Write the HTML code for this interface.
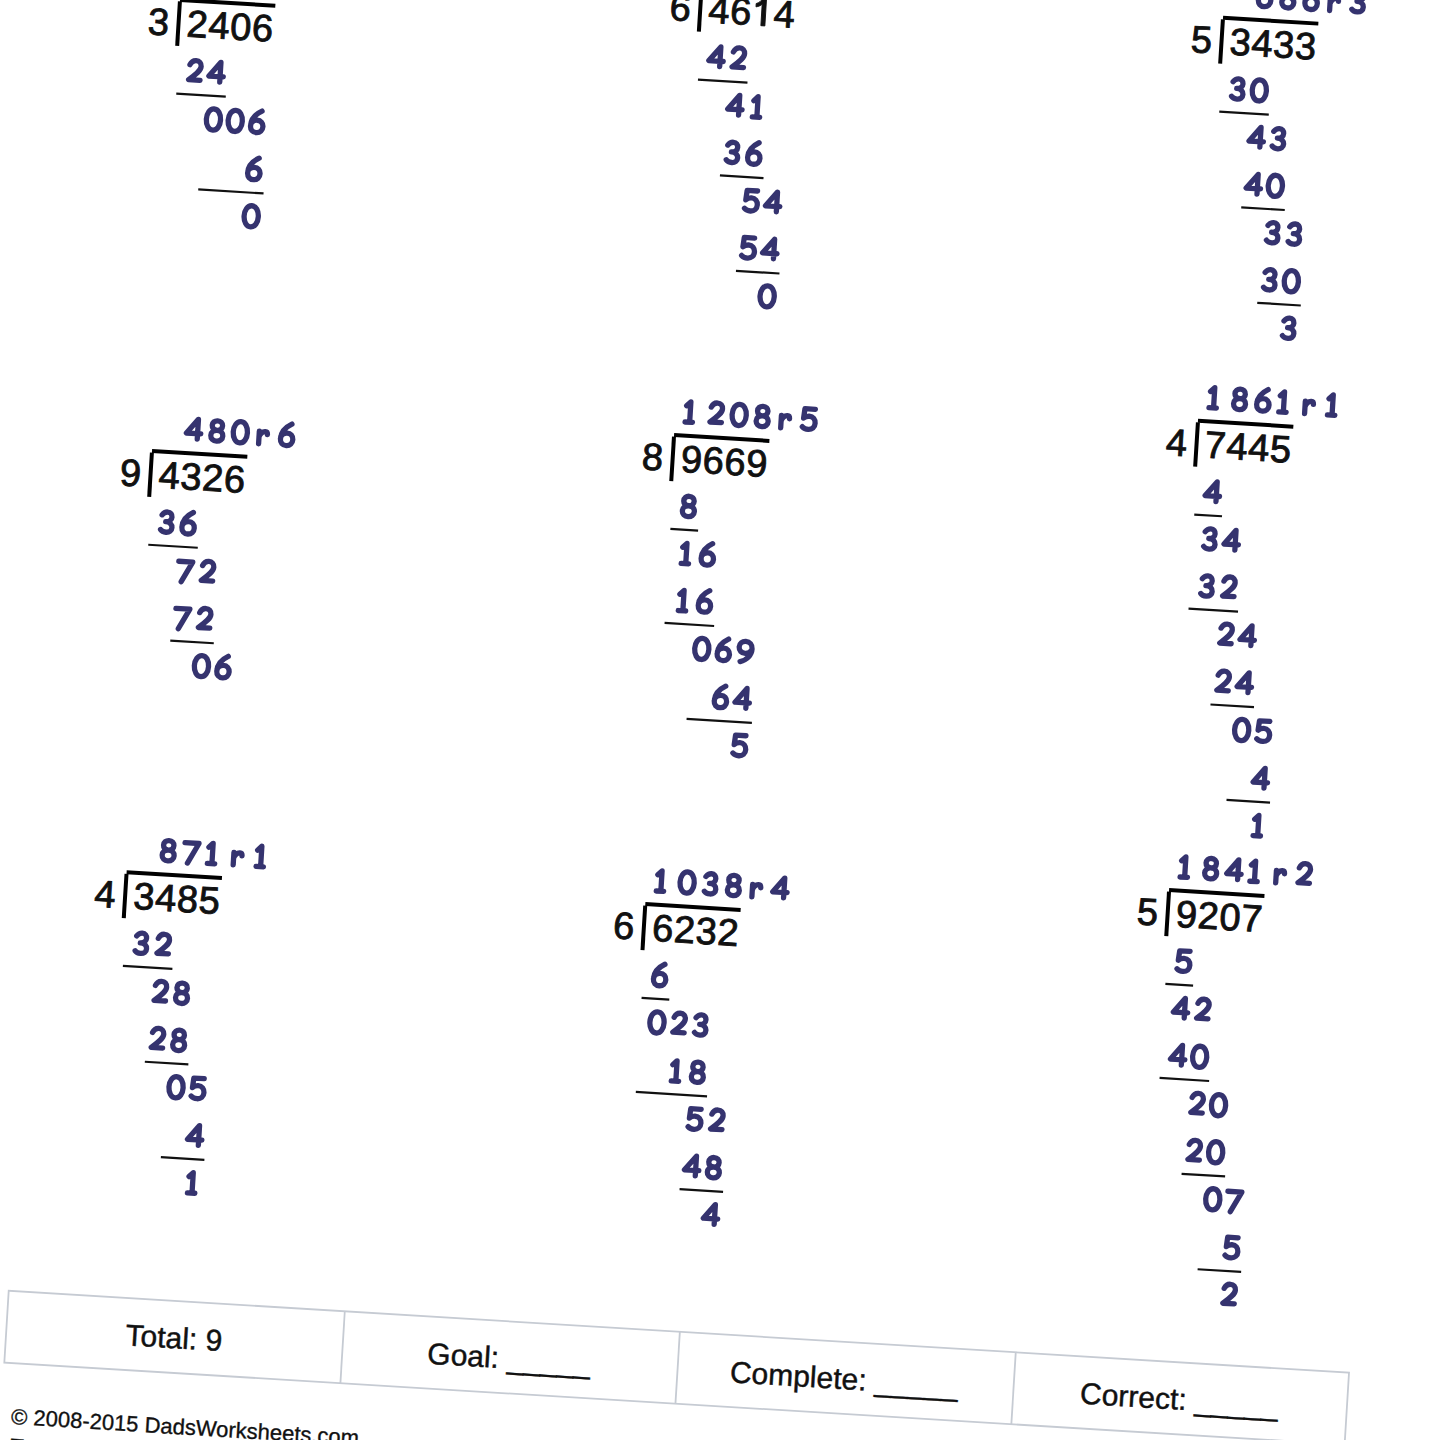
<!DOCTYPE html>
<html><head><meta charset="utf-8"><style>
html,body{margin:0;padding:0;background:#fff;width:1440px;height:1440px;overflow:hidden}
svg{position:absolute;left:0;top:0}
.k{font-family:"Liberation Sans",sans-serif;font-size:38px;fill:#111;stroke:#111;stroke-width:0.9;text-anchor:middle}
svg path{fill:none;stroke:#35336f;stroke-width:5.3px;stroke-linecap:round;stroke-linejoin:round}
svg path.k1{fill:#111;stroke:#111;stroke-width:0.9px;stroke-linejoin:miter}
.b{font-family:"Liberation Sans",sans-serif;font-weight:bold;font-size:33.5px;fill:#35336f;text-anchor:middle}
.t{font-family:"Liberation Sans",sans-serif;font-size:30px;fill:#111;stroke:#111;stroke-width:0.45;text-anchor:middle}
.c{font-family:"Liberation Sans",sans-serif;font-size:22px;fill:#111;stroke:#111;stroke-width:0.35}
</style></head><body>
<svg width="1440" height="1440" viewBox="0 0 1440 1440">
<g transform="rotate(3.5)">
<g transform="translate(179.65,-12.89)">
<text x="-20.1" y="38.0" class="k">3</text>
<text x="18.90" y="38.0" class="k">2</text>
<text x="40.70" y="38.0" class="k">4</text>
<text x="62.50" y="38.0" class="k">0</text>
<text x="84.30" y="38.0" class="k">6</text>
<rect x="0" y="-0.2" width="95.5" height="4.0" fill="#000"/>
<rect x="-2.0" y="3.4" width="4.0" height="44.4" fill="#000"/>
<path transform="translate(40.45,-9.65)" d="M0,-13.2 C-3.4,-13.2 -5.2,-15.2 -5.2,-17.9 C-5.2,-20.8 -3,-22.7 0,-22.7 C3,-22.7 5.2,-20.8 5.2,-17.9 C5.2,-15.2 3.4,-13.2 0,-13.2 C-3.8,-13.2 -6,-11 -6,-7.8 C-6,-4.5 -3.4,-2.3 0,-2.3 C3.4,-2.3 6,-4.5 6,-7.8 C6,-11 3.8,-13.2 0,-13.2 Z"/>
<path transform="translate(63.75,-9.65)" d="M0,-23.2 C4.2,-23.2 7.1,-18.5 7.1,-12.6 C7.1,-6.7 4.2,-2.0 0,-2.0 C-4.2,-2.0 -7.1,-6.7 -7.1,-12.6 C-7.1,-18.5 -4.2,-23.2 0,-23.2 Z"/>
<path transform="translate(87.05,-9.65)" d="M-5.0,-18.8 C-3.8,-21.8 -1.4,-23.2 1.0,-23.2 C4.2,-23.2 6.3,-21 6.3,-17.8 C6.3,-13.6 1.6,-9.6 -5.4,-3.8 L6.0,-3.8"/>
<path transform="translate(18.90,84.65)" d="M-5.0,-18.8 C-3.8,-21.8 -1.4,-23.2 1.0,-23.2 C4.2,-23.2 6.3,-21 6.3,-17.8 C6.3,-13.6 1.6,-9.6 -5.4,-3.8 L6.0,-3.8"/>
<path transform="translate(40.70,84.65)" d="M4,-3.2 L4,-23 L-7.2,-8.6 L7.2,-8.6"/>
<path transform="translate(40.70,131.80)" d="M0,-23.2 C4.2,-23.2 7.1,-18.5 7.1,-12.6 C7.1,-6.7 4.2,-2.0 0,-2.0 C-4.2,-2.0 -7.1,-6.7 -7.1,-12.6 C-7.1,-18.5 -4.2,-23.2 0,-23.2 Z"/>
<path transform="translate(62.50,131.80)" d="M0,-23.2 C4.2,-23.2 7.1,-18.5 7.1,-12.6 C7.1,-6.7 4.2,-2.0 0,-2.0 C-4.2,-2.0 -7.1,-6.7 -7.1,-12.6 C-7.1,-18.5 -4.2,-23.2 0,-23.2 Z"/>
<path transform="translate(84.30,131.80)" d="M4.4,-24.0 C-1.8,-20.6 -6.2,-15 -6.2,-8.6 C-6.2,-4.6 -3.8,-2.2 0,-2.2 C3.7,-2.2 6.2,-4.8 6.2,-8.5 C6.2,-12.1 3.7,-14.6 0.1,-14.6 C-2.6,-14.6 -4.8,-13.2 -5.9,-11"/>
<path transform="translate(84.30,178.95)" d="M4.4,-24.0 C-1.8,-20.6 -6.2,-15 -6.2,-8.6 C-6.2,-4.6 -3.8,-2.2 0,-2.2 C3.7,-2.2 6.2,-4.8 6.2,-8.5 C6.2,-12.1 3.7,-14.6 0.1,-14.6 C-2.6,-14.6 -4.8,-13.2 -5.9,-11"/>
<path transform="translate(84.30,226.10)" d="M0,-23.2 C4.2,-23.2 7.1,-18.5 7.1,-12.6 C7.1,-6.7 4.2,-2.0 0,-2.0 C-4.2,-2.0 -7.1,-6.7 -7.1,-12.6 C-7.1,-18.5 -4.2,-23.2 0,-23.2 Z"/>
<rect x="2.00" y="94.50" width="49.60" height="2.2" fill="#111"/>
<rect x="29.80" y="188.80" width="65.40" height="2.2" fill="#111"/>
</g>
<g transform="translate(699.51,-58.81)">
<text x="-20.1" y="38.0" class="k">6</text>
<text x="18.90" y="38.0" class="k">4</text>
<text x="40.70" y="38.0" class="k">6</text>
<path class="k1" transform="translate(62.50,38.0)" d="M-1,-27 L3,-27 L3,0 L-1,0 L-1,-21.5 C-2.5,-20 -4.5,-19 -7,-18.5 L-7,-21.8 C-4,-22.8 -2,-24.8 -1,-27 Z"/>
<text x="84.30" y="38.0" class="k">4</text>
<rect x="0" y="-0.2" width="95.5" height="4.0" fill="#000"/>
<rect x="-2.0" y="3.4" width="4.0" height="44.4" fill="#000"/>
<path transform="translate(40.45,-9.65)" d="M-7.2,-21.6 L6.8,-21.6 L-3.6,-1.4"/>
<path transform="translate(63.75,-9.65)" d="M4.4,-24.0 C-1.8,-20.6 -6.2,-15 -6.2,-8.6 C-6.2,-4.6 -3.8,-2.2 0,-2.2 C3.7,-2.2 6.2,-4.8 6.2,-8.5 C6.2,-12.1 3.7,-14.6 0.1,-14.6 C-2.6,-14.6 -4.8,-13.2 -5.9,-11"/>
<path transform="translate(87.05,-9.65)" d="M6.2,-14.4 C5,-12 2.8,-10.8 0,-10.8 C-3.8,-10.8 -6.4,-13.4 -6.4,-16.8 C-6.4,-20.2 -3.6,-22.7 0,-22.7 C3.8,-22.7 6.6,-20 6.6,-15.6 C6.6,-9.4 2.2,-4.2 -4.6,-2.3"/>
<path transform="translate(18.90,84.65)" d="M4,-3.2 L4,-23 L-7.2,-8.6 L7.2,-8.6"/>
<path transform="translate(40.70,84.65)" d="M-5.0,-18.8 C-3.8,-21.8 -1.4,-23.2 1.0,-23.2 C4.2,-23.2 6.3,-21 6.3,-17.8 C6.3,-13.6 1.6,-9.6 -5.4,-3.8 L6.0,-3.8"/>
<path transform="translate(40.70,131.80)" d="M4,-3.2 L4,-23 L-7.2,-8.6 L7.2,-8.6"/>
<path transform="translate(62.50,131.80)" d="M0.6,-2.3 L0.6,-22.7 L-3.4,-18.6 M-4.0,-2.3 L3.4,-2.3"/>
<path transform="translate(40.70,178.95)" d="M-4.9,-19.8 C-3.4,-22 -1.4,-22.9 0.6,-22.9 C3.5,-22.9 5.1,-20.8 5.1,-18.2 C5.1,-15 2.7,-13.2 -0.9,-13.2 C3.3,-13.2 5.7,-10.8 5.7,-7.6 C5.7,-4.4 3.3,-2.6 0,-2.6 C-2.4,-2.6 -4.4,-3.4 -5.6,-5"/>
<path transform="translate(62.50,178.95)" d="M4.4,-24.0 C-1.8,-20.6 -6.2,-15 -6.2,-8.6 C-6.2,-4.6 -3.8,-2.2 0,-2.2 C3.7,-2.2 6.2,-4.8 6.2,-8.5 C6.2,-12.1 3.7,-14.6 0.1,-14.6 C-2.6,-14.6 -4.8,-13.2 -5.9,-11"/>
<path transform="translate(62.50,226.10)" d="M5.8,-22.9 L-4.6,-22.9 L-5.4,-13.4 C-3.8,-15 -1.8,-15.6 0.2,-15.6 C4,-15.6 6.4,-12.8 6.4,-9 C6.4,-5 3.6,-2.5 -0.2,-2.5 C-2.8,-2.5 -4.8,-3.4 -6.2,-4.8"/>
<path transform="translate(84.30,226.10)" d="M4,-3.2 L4,-23 L-7.2,-8.6 L7.2,-8.6"/>
<path transform="translate(62.50,273.25)" d="M5.8,-22.9 L-4.6,-22.9 L-5.4,-13.4 C-3.8,-15 -1.8,-15.6 0.2,-15.6 C4,-15.6 6.4,-12.8 6.4,-9 C6.4,-5 3.6,-2.5 -0.2,-2.5 C-2.8,-2.5 -4.8,-3.4 -6.2,-4.8"/>
<path transform="translate(84.30,273.25)" d="M4,-3.2 L4,-23 L-7.2,-8.6 L7.2,-8.6"/>
<path transform="translate(84.30,320.40)" d="M0,-23.2 C4.2,-23.2 7.1,-18.5 7.1,-12.6 C7.1,-6.7 4.2,-2.0 0,-2.0 C-4.2,-2.0 -7.1,-6.7 -7.1,-12.6 C-7.1,-18.5 -4.2,-23.2 0,-23.2 Z"/>
<rect x="2.00" y="94.50" width="49.60" height="2.2" fill="#111"/>
<rect x="29.80" y="188.80" width="43.60" height="2.2" fill="#111"/>
<rect x="51.60" y="283.10" width="43.60" height="2.2" fill="#111"/>
</g>
<g transform="translate(1221.80,-58.70)">
<text x="-20.1" y="38.0" class="k">5</text>
<text x="18.90" y="38.0" class="k">3</text>
<text x="40.70" y="38.0" class="k">4</text>
<text x="62.50" y="38.0" class="k">3</text>
<text x="84.30" y="38.0" class="k">3</text>
<rect x="0" y="-0.2" width="95.5" height="4.0" fill="#000"/>
<rect x="-2.0" y="3.4" width="4.0" height="44.4" fill="#000"/>
<path transform="translate(40.45,-9.65)" d="M4.4,-24.0 C-1.8,-20.6 -6.2,-15 -6.2,-8.6 C-6.2,-4.6 -3.8,-2.2 0,-2.2 C3.7,-2.2 6.2,-4.8 6.2,-8.5 C6.2,-12.1 3.7,-14.6 0.1,-14.6 C-2.6,-14.6 -4.8,-13.2 -5.9,-11"/>
<path transform="translate(63.75,-9.65)" d="M0,-13.2 C-3.4,-13.2 -5.2,-15.2 -5.2,-17.9 C-5.2,-20.8 -3,-22.7 0,-22.7 C3,-22.7 5.2,-20.8 5.2,-17.9 C5.2,-15.2 3.4,-13.2 0,-13.2 C-3.8,-13.2 -6,-11 -6,-7.8 C-6,-4.5 -3.4,-2.3 0,-2.3 C3.4,-2.3 6,-4.5 6,-7.8 C6,-11 3.8,-13.2 0,-13.2 Z"/>
<path transform="translate(87.05,-9.65)" d="M4.4,-24.0 C-1.8,-20.6 -6.2,-15 -6.2,-8.6 C-6.2,-4.6 -3.8,-2.2 0,-2.2 C3.7,-2.2 6.2,-4.8 6.2,-8.5 C6.2,-12.1 3.7,-14.6 0.1,-14.6 C-2.6,-14.6 -4.8,-13.2 -5.9,-11"/>
<path transform="translate(110.35,-9.65)" d="M-4.4,-2.3 L-4.4,-14.8 M-4.4,-9.2 C-3.2,-12.8 -0.8,-14.8 1.6,-14.8 C3.2,-14.8 3.9,-13.8 3.9,-11.9"/>
<path transform="translate(133.65,-9.65)" d="M-4.9,-19.8 C-3.4,-22 -1.4,-22.9 0.6,-22.9 C3.5,-22.9 5.1,-20.8 5.1,-18.2 C5.1,-15 2.7,-13.2 -0.9,-13.2 C3.3,-13.2 5.7,-10.8 5.7,-7.6 C5.7,-4.4 3.3,-2.6 0,-2.6 C-2.4,-2.6 -4.4,-3.4 -5.6,-5"/>
<path transform="translate(18.90,84.65)" d="M-4.9,-19.8 C-3.4,-22 -1.4,-22.9 0.6,-22.9 C3.5,-22.9 5.1,-20.8 5.1,-18.2 C5.1,-15 2.7,-13.2 -0.9,-13.2 C3.3,-13.2 5.7,-10.8 5.7,-7.6 C5.7,-4.4 3.3,-2.6 0,-2.6 C-2.4,-2.6 -4.4,-3.4 -5.6,-5"/>
<path transform="translate(40.70,84.65)" d="M0,-23.2 C4.2,-23.2 7.1,-18.5 7.1,-12.6 C7.1,-6.7 4.2,-2.0 0,-2.0 C-4.2,-2.0 -7.1,-6.7 -7.1,-12.6 C-7.1,-18.5 -4.2,-23.2 0,-23.2 Z"/>
<path transform="translate(40.70,131.80)" d="M4,-3.2 L4,-23 L-7.2,-8.6 L7.2,-8.6"/>
<path transform="translate(62.50,131.80)" d="M-4.9,-19.8 C-3.4,-22 -1.4,-22.9 0.6,-22.9 C3.5,-22.9 5.1,-20.8 5.1,-18.2 C5.1,-15 2.7,-13.2 -0.9,-13.2 C3.3,-13.2 5.7,-10.8 5.7,-7.6 C5.7,-4.4 3.3,-2.6 0,-2.6 C-2.4,-2.6 -4.4,-3.4 -5.6,-5"/>
<path transform="translate(40.70,178.95)" d="M4,-3.2 L4,-23 L-7.2,-8.6 L7.2,-8.6"/>
<path transform="translate(62.50,178.95)" d="M0,-23.2 C4.2,-23.2 7.1,-18.5 7.1,-12.6 C7.1,-6.7 4.2,-2.0 0,-2.0 C-4.2,-2.0 -7.1,-6.7 -7.1,-12.6 C-7.1,-18.5 -4.2,-23.2 0,-23.2 Z"/>
<path transform="translate(62.50,226.10)" d="M-4.9,-19.8 C-3.4,-22 -1.4,-22.9 0.6,-22.9 C3.5,-22.9 5.1,-20.8 5.1,-18.2 C5.1,-15 2.7,-13.2 -0.9,-13.2 C3.3,-13.2 5.7,-10.8 5.7,-7.6 C5.7,-4.4 3.3,-2.6 0,-2.6 C-2.4,-2.6 -4.4,-3.4 -5.6,-5"/>
<path transform="translate(84.30,226.10)" d="M-4.9,-19.8 C-3.4,-22 -1.4,-22.9 0.6,-22.9 C3.5,-22.9 5.1,-20.8 5.1,-18.2 C5.1,-15 2.7,-13.2 -0.9,-13.2 C3.3,-13.2 5.7,-10.8 5.7,-7.6 C5.7,-4.4 3.3,-2.6 0,-2.6 C-2.4,-2.6 -4.4,-3.4 -5.6,-5"/>
<path transform="translate(62.50,273.25)" d="M-4.9,-19.8 C-3.4,-22 -1.4,-22.9 0.6,-22.9 C3.5,-22.9 5.1,-20.8 5.1,-18.2 C5.1,-15 2.7,-13.2 -0.9,-13.2 C3.3,-13.2 5.7,-10.8 5.7,-7.6 C5.7,-4.4 3.3,-2.6 0,-2.6 C-2.4,-2.6 -4.4,-3.4 -5.6,-5"/>
<path transform="translate(84.30,273.25)" d="M0,-23.2 C4.2,-23.2 7.1,-18.5 7.1,-12.6 C7.1,-6.7 4.2,-2.0 0,-2.0 C-4.2,-2.0 -7.1,-6.7 -7.1,-12.6 C-7.1,-18.5 -4.2,-23.2 0,-23.2 Z"/>
<path transform="translate(84.30,320.40)" d="M-4.9,-19.8 C-3.4,-22 -1.4,-22.9 0.6,-22.9 C3.5,-22.9 5.1,-20.8 5.1,-18.2 C5.1,-15 2.7,-13.2 -0.9,-13.2 C3.3,-13.2 5.7,-10.8 5.7,-7.6 C5.7,-4.4 3.3,-2.6 0,-2.6 C-2.4,-2.6 -4.4,-3.4 -5.6,-5"/>
<rect x="2.00" y="94.50" width="49.60" height="2.2" fill="#111"/>
<rect x="29.80" y="188.80" width="43.60" height="2.2" fill="#111"/>
<rect x="51.60" y="283.10" width="43.60" height="2.2" fill="#111"/>
</g>
<g transform="translate(179.24,439.08)">
<text x="-20.1" y="38.0" class="k">9</text>
<text x="18.90" y="38.0" class="k">4</text>
<text x="40.70" y="38.0" class="k">3</text>
<text x="62.50" y="38.0" class="k">2</text>
<text x="84.30" y="38.0" class="k">6</text>
<rect x="0" y="-0.2" width="95.5" height="4.0" fill="#000"/>
<rect x="-2.0" y="3.4" width="4.0" height="44.4" fill="#000"/>
<path transform="translate(40.45,-9.65)" d="M4,-3.2 L4,-23 L-7.2,-8.6 L7.2,-8.6"/>
<path transform="translate(63.75,-9.65)" d="M0,-13.2 C-3.4,-13.2 -5.2,-15.2 -5.2,-17.9 C-5.2,-20.8 -3,-22.7 0,-22.7 C3,-22.7 5.2,-20.8 5.2,-17.9 C5.2,-15.2 3.4,-13.2 0,-13.2 C-3.8,-13.2 -6,-11 -6,-7.8 C-6,-4.5 -3.4,-2.3 0,-2.3 C3.4,-2.3 6,-4.5 6,-7.8 C6,-11 3.8,-13.2 0,-13.2 Z"/>
<path transform="translate(87.05,-9.65)" d="M0,-23.2 C4.2,-23.2 7.1,-18.5 7.1,-12.6 C7.1,-6.7 4.2,-2.0 0,-2.0 C-4.2,-2.0 -7.1,-6.7 -7.1,-12.6 C-7.1,-18.5 -4.2,-23.2 0,-23.2 Z"/>
<path transform="translate(110.35,-9.65)" d="M-4.4,-2.3 L-4.4,-14.8 M-4.4,-9.2 C-3.2,-12.8 -0.8,-14.8 1.6,-14.8 C3.2,-14.8 3.9,-13.8 3.9,-11.9"/>
<path transform="translate(133.65,-9.65)" d="M4.4,-24.0 C-1.8,-20.6 -6.2,-15 -6.2,-8.6 C-6.2,-4.6 -3.8,-2.2 0,-2.2 C3.7,-2.2 6.2,-4.8 6.2,-8.5 C6.2,-12.1 3.7,-14.6 0.1,-14.6 C-2.6,-14.6 -4.8,-13.2 -5.9,-11"/>
<path transform="translate(18.90,84.65)" d="M-4.9,-19.8 C-3.4,-22 -1.4,-22.9 0.6,-22.9 C3.5,-22.9 5.1,-20.8 5.1,-18.2 C5.1,-15 2.7,-13.2 -0.9,-13.2 C3.3,-13.2 5.7,-10.8 5.7,-7.6 C5.7,-4.4 3.3,-2.6 0,-2.6 C-2.4,-2.6 -4.4,-3.4 -5.6,-5"/>
<path transform="translate(40.70,84.65)" d="M4.4,-24.0 C-1.8,-20.6 -6.2,-15 -6.2,-8.6 C-6.2,-4.6 -3.8,-2.2 0,-2.2 C3.7,-2.2 6.2,-4.8 6.2,-8.5 C6.2,-12.1 3.7,-14.6 0.1,-14.6 C-2.6,-14.6 -4.8,-13.2 -5.9,-11"/>
<path transform="translate(40.70,131.80)" d="M-7.2,-21.6 L6.8,-21.6 L-3.6,-1.4"/>
<path transform="translate(62.50,131.80)" d="M-5.0,-18.8 C-3.8,-21.8 -1.4,-23.2 1.0,-23.2 C4.2,-23.2 6.3,-21 6.3,-17.8 C6.3,-13.6 1.6,-9.6 -5.4,-3.8 L6.0,-3.8"/>
<path transform="translate(40.70,178.95)" d="M-7.2,-21.6 L6.8,-21.6 L-3.6,-1.4"/>
<path transform="translate(62.50,178.95)" d="M-5.0,-18.8 C-3.8,-21.8 -1.4,-23.2 1.0,-23.2 C4.2,-23.2 6.3,-21 6.3,-17.8 C6.3,-13.6 1.6,-9.6 -5.4,-3.8 L6.0,-3.8"/>
<path transform="translate(62.50,226.10)" d="M0,-23.2 C4.2,-23.2 7.1,-18.5 7.1,-12.6 C7.1,-6.7 4.2,-2.0 0,-2.0 C-4.2,-2.0 -7.1,-6.7 -7.1,-12.6 C-7.1,-18.5 -4.2,-23.2 0,-23.2 Z"/>
<path transform="translate(84.30,226.10)" d="M4.4,-24.0 C-1.8,-20.6 -6.2,-15 -6.2,-8.6 C-6.2,-4.6 -3.8,-2.2 0,-2.2 C3.7,-2.2 6.2,-4.8 6.2,-8.5 C6.2,-12.1 3.7,-14.6 0.1,-14.6 C-2.6,-14.6 -4.8,-13.2 -5.9,-11"/>
<rect x="2.00" y="94.50" width="49.60" height="2.2" fill="#111"/>
<rect x="29.80" y="188.80" width="43.60" height="2.2" fill="#111"/>
</g>
<g transform="translate(699.39,391.33)">
<text x="-20.1" y="38.0" class="k">8</text>
<text x="18.90" y="38.0" class="k">9</text>
<text x="40.70" y="38.0" class="k">6</text>
<text x="62.50" y="38.0" class="k">6</text>
<text x="84.30" y="38.0" class="k">9</text>
<rect x="0" y="-0.2" width="95.5" height="4.0" fill="#000"/>
<rect x="-2.0" y="3.4" width="4.0" height="44.4" fill="#000"/>
<path transform="translate(14.15,-9.65)" d="M0.6,-2.3 L0.6,-22.7 L-3.4,-18.6 M-4.0,-2.3 L3.4,-2.3"/>
<path transform="translate(40.45,-9.65)" d="M-5.0,-18.8 C-3.8,-21.8 -1.4,-23.2 1.0,-23.2 C4.2,-23.2 6.3,-21 6.3,-17.8 C6.3,-13.6 1.6,-9.6 -5.4,-3.8 L6.0,-3.8"/>
<path transform="translate(63.75,-9.65)" d="M0,-23.2 C4.2,-23.2 7.1,-18.5 7.1,-12.6 C7.1,-6.7 4.2,-2.0 0,-2.0 C-4.2,-2.0 -7.1,-6.7 -7.1,-12.6 C-7.1,-18.5 -4.2,-23.2 0,-23.2 Z"/>
<path transform="translate(87.05,-9.65)" d="M0,-13.2 C-3.4,-13.2 -5.2,-15.2 -5.2,-17.9 C-5.2,-20.8 -3,-22.7 0,-22.7 C3,-22.7 5.2,-20.8 5.2,-17.9 C5.2,-15.2 3.4,-13.2 0,-13.2 C-3.8,-13.2 -6,-11 -6,-7.8 C-6,-4.5 -3.4,-2.3 0,-2.3 C3.4,-2.3 6,-4.5 6,-7.8 C6,-11 3.8,-13.2 0,-13.2 Z"/>
<path transform="translate(110.35,-9.65)" d="M-4.4,-2.3 L-4.4,-14.8 M-4.4,-9.2 C-3.2,-12.8 -0.8,-14.8 1.6,-14.8 C3.2,-14.8 3.9,-13.8 3.9,-11.9"/>
<path transform="translate(133.65,-9.65)" d="M5.8,-22.9 L-4.6,-22.9 L-5.4,-13.4 C-3.8,-15 -1.8,-15.6 0.2,-15.6 C4,-15.6 6.4,-12.8 6.4,-9 C6.4,-5 3.6,-2.5 -0.2,-2.5 C-2.8,-2.5 -4.8,-3.4 -6.2,-4.8"/>
<path transform="translate(18.90,84.65)" d="M0,-13.2 C-3.4,-13.2 -5.2,-15.2 -5.2,-17.9 C-5.2,-20.8 -3,-22.7 0,-22.7 C3,-22.7 5.2,-20.8 5.2,-17.9 C5.2,-15.2 3.4,-13.2 0,-13.2 C-3.8,-13.2 -6,-11 -6,-7.8 C-6,-4.5 -3.4,-2.3 0,-2.3 C3.4,-2.3 6,-4.5 6,-7.8 C6,-11 3.8,-13.2 0,-13.2 Z"/>
<path transform="translate(18.90,131.80)" d="M0.6,-2.3 L0.6,-22.7 L-3.4,-18.6 M-4.0,-2.3 L3.4,-2.3"/>
<path transform="translate(40.70,131.80)" d="M4.4,-24.0 C-1.8,-20.6 -6.2,-15 -6.2,-8.6 C-6.2,-4.6 -3.8,-2.2 0,-2.2 C3.7,-2.2 6.2,-4.8 6.2,-8.5 C6.2,-12.1 3.7,-14.6 0.1,-14.6 C-2.6,-14.6 -4.8,-13.2 -5.9,-11"/>
<path transform="translate(18.90,178.95)" d="M0.6,-2.3 L0.6,-22.7 L-3.4,-18.6 M-4.0,-2.3 L3.4,-2.3"/>
<path transform="translate(40.70,178.95)" d="M4.4,-24.0 C-1.8,-20.6 -6.2,-15 -6.2,-8.6 C-6.2,-4.6 -3.8,-2.2 0,-2.2 C3.7,-2.2 6.2,-4.8 6.2,-8.5 C6.2,-12.1 3.7,-14.6 0.1,-14.6 C-2.6,-14.6 -4.8,-13.2 -5.9,-11"/>
<path transform="translate(40.70,226.10)" d="M0,-23.2 C4.2,-23.2 7.1,-18.5 7.1,-12.6 C7.1,-6.7 4.2,-2.0 0,-2.0 C-4.2,-2.0 -7.1,-6.7 -7.1,-12.6 C-7.1,-18.5 -4.2,-23.2 0,-23.2 Z"/>
<path transform="translate(62.50,226.10)" d="M4.4,-24.0 C-1.8,-20.6 -6.2,-15 -6.2,-8.6 C-6.2,-4.6 -3.8,-2.2 0,-2.2 C3.7,-2.2 6.2,-4.8 6.2,-8.5 C6.2,-12.1 3.7,-14.6 0.1,-14.6 C-2.6,-14.6 -4.8,-13.2 -5.9,-11"/>
<path transform="translate(84.30,226.10)" d="M6.2,-14.4 C5,-12 2.8,-10.8 0,-10.8 C-3.8,-10.8 -6.4,-13.4 -6.4,-16.8 C-6.4,-20.2 -3.6,-22.7 0,-22.7 C3.8,-22.7 6.6,-20 6.6,-15.6 C6.6,-9.4 2.2,-4.2 -4.6,-2.3"/>
<path transform="translate(62.50,273.25)" d="M4.4,-24.0 C-1.8,-20.6 -6.2,-15 -6.2,-8.6 C-6.2,-4.6 -3.8,-2.2 0,-2.2 C3.7,-2.2 6.2,-4.8 6.2,-8.5 C6.2,-12.1 3.7,-14.6 0.1,-14.6 C-2.6,-14.6 -4.8,-13.2 -5.9,-11"/>
<path transform="translate(84.30,273.25)" d="M4,-3.2 L4,-23 L-7.2,-8.6 L7.2,-8.6"/>
<path transform="translate(84.30,320.40)" d="M5.8,-22.9 L-4.6,-22.9 L-5.4,-13.4 C-3.8,-15 -1.8,-15.6 0.2,-15.6 C4,-15.6 6.4,-12.8 6.4,-9 C6.4,-5 3.6,-2.5 -0.2,-2.5 C-2.8,-2.5 -4.8,-3.4 -6.2,-4.8"/>
<rect x="2.00" y="94.50" width="27.80" height="2.2" fill="#111"/>
<rect x="2.00" y="188.80" width="49.60" height="2.2" fill="#111"/>
<rect x="29.80" y="283.10" width="65.40" height="2.2" fill="#111"/>
</g>
<g transform="translate(1221.44,345.08)">
<text x="-20.1" y="38.0" class="k">4</text>
<text x="18.90" y="38.0" class="k">7</text>
<text x="40.70" y="38.0" class="k">4</text>
<text x="62.50" y="38.0" class="k">4</text>
<text x="84.30" y="38.0" class="k">5</text>
<rect x="0" y="-0.2" width="95.5" height="4.0" fill="#000"/>
<rect x="-2.0" y="3.4" width="4.0" height="44.4" fill="#000"/>
<path transform="translate(14.15,-9.65)" d="M0.6,-2.3 L0.6,-22.7 L-3.4,-18.6 M-4.0,-2.3 L3.4,-2.3"/>
<path transform="translate(40.45,-9.65)" d="M0,-13.2 C-3.4,-13.2 -5.2,-15.2 -5.2,-17.9 C-5.2,-20.8 -3,-22.7 0,-22.7 C3,-22.7 5.2,-20.8 5.2,-17.9 C5.2,-15.2 3.4,-13.2 0,-13.2 C-3.8,-13.2 -6,-11 -6,-7.8 C-6,-4.5 -3.4,-2.3 0,-2.3 C3.4,-2.3 6,-4.5 6,-7.8 C6,-11 3.8,-13.2 0,-13.2 Z"/>
<path transform="translate(63.75,-9.65)" d="M4.4,-24.0 C-1.8,-20.6 -6.2,-15 -6.2,-8.6 C-6.2,-4.6 -3.8,-2.2 0,-2.2 C3.7,-2.2 6.2,-4.8 6.2,-8.5 C6.2,-12.1 3.7,-14.6 0.1,-14.6 C-2.6,-14.6 -4.8,-13.2 -5.9,-11"/>
<path transform="translate(84.05,-9.65)" d="M0.6,-2.3 L0.6,-22.7 L-3.4,-18.6 M-4.0,-2.3 L3.4,-2.3"/>
<path transform="translate(110.35,-9.65)" d="M-4.4,-2.3 L-4.4,-14.8 M-4.4,-9.2 C-3.2,-12.8 -0.8,-14.8 1.6,-14.8 C3.2,-14.8 3.9,-13.8 3.9,-11.9"/>
<path transform="translate(132.85,-9.65)" d="M0.6,-2.3 L0.6,-22.7 L-3.4,-18.6 M-4.0,-2.3 L3.4,-2.3"/>
<path transform="translate(18.90,84.65)" d="M4,-3.2 L4,-23 L-7.2,-8.6 L7.2,-8.6"/>
<path transform="translate(18.90,131.80)" d="M-4.9,-19.8 C-3.4,-22 -1.4,-22.9 0.6,-22.9 C3.5,-22.9 5.1,-20.8 5.1,-18.2 C5.1,-15 2.7,-13.2 -0.9,-13.2 C3.3,-13.2 5.7,-10.8 5.7,-7.6 C5.7,-4.4 3.3,-2.6 0,-2.6 C-2.4,-2.6 -4.4,-3.4 -5.6,-5"/>
<path transform="translate(40.70,131.80)" d="M4,-3.2 L4,-23 L-7.2,-8.6 L7.2,-8.6"/>
<path transform="translate(18.90,178.95)" d="M-4.9,-19.8 C-3.4,-22 -1.4,-22.9 0.6,-22.9 C3.5,-22.9 5.1,-20.8 5.1,-18.2 C5.1,-15 2.7,-13.2 -0.9,-13.2 C3.3,-13.2 5.7,-10.8 5.7,-7.6 C5.7,-4.4 3.3,-2.6 0,-2.6 C-2.4,-2.6 -4.4,-3.4 -5.6,-5"/>
<path transform="translate(40.70,178.95)" d="M-5.0,-18.8 C-3.8,-21.8 -1.4,-23.2 1.0,-23.2 C4.2,-23.2 6.3,-21 6.3,-17.8 C6.3,-13.6 1.6,-9.6 -5.4,-3.8 L6.0,-3.8"/>
<path transform="translate(40.70,226.10)" d="M-5.0,-18.8 C-3.8,-21.8 -1.4,-23.2 1.0,-23.2 C4.2,-23.2 6.3,-21 6.3,-17.8 C6.3,-13.6 1.6,-9.6 -5.4,-3.8 L6.0,-3.8"/>
<path transform="translate(62.50,226.10)" d="M4,-3.2 L4,-23 L-7.2,-8.6 L7.2,-8.6"/>
<path transform="translate(40.70,273.25)" d="M-5.0,-18.8 C-3.8,-21.8 -1.4,-23.2 1.0,-23.2 C4.2,-23.2 6.3,-21 6.3,-17.8 C6.3,-13.6 1.6,-9.6 -5.4,-3.8 L6.0,-3.8"/>
<path transform="translate(62.50,273.25)" d="M4,-3.2 L4,-23 L-7.2,-8.6 L7.2,-8.6"/>
<path transform="translate(62.50,320.40)" d="M0,-23.2 C4.2,-23.2 7.1,-18.5 7.1,-12.6 C7.1,-6.7 4.2,-2.0 0,-2.0 C-4.2,-2.0 -7.1,-6.7 -7.1,-12.6 C-7.1,-18.5 -4.2,-23.2 0,-23.2 Z"/>
<path transform="translate(84.30,320.40)" d="M5.8,-22.9 L-4.6,-22.9 L-5.4,-13.4 C-3.8,-15 -1.8,-15.6 0.2,-15.6 C4,-15.6 6.4,-12.8 6.4,-9 C6.4,-5 3.6,-2.5 -0.2,-2.5 C-2.8,-2.5 -4.8,-3.4 -6.2,-4.8"/>
<path transform="translate(84.30,367.55)" d="M4,-3.2 L4,-23 L-7.2,-8.6 L7.2,-8.6"/>
<path transform="translate(84.30,414.70)" d="M0.6,-2.3 L0.6,-22.7 L-3.4,-18.6 M-4.0,-2.3 L3.4,-2.3"/>
<rect x="2.00" y="94.50" width="27.80" height="2.2" fill="#111"/>
<rect x="2.00" y="188.80" width="49.60" height="2.2" fill="#111"/>
<rect x="29.80" y="283.10" width="43.60" height="2.2" fill="#111"/>
<rect x="51.60" y="377.40" width="43.60" height="2.2" fill="#111"/>
</g>
<g transform="translate(179.60,861.04)">
<text x="-20.1" y="38.0" class="k">4</text>
<text x="18.90" y="38.0" class="k">3</text>
<text x="40.70" y="38.0" class="k">4</text>
<text x="62.50" y="38.0" class="k">8</text>
<text x="84.30" y="38.0" class="k">5</text>
<rect x="0" y="-0.2" width="95.5" height="4.0" fill="#000"/>
<rect x="-2.0" y="3.4" width="4.0" height="44.4" fill="#000"/>
<path transform="translate(40.45,-9.65)" d="M0,-13.2 C-3.4,-13.2 -5.2,-15.2 -5.2,-17.9 C-5.2,-20.8 -3,-22.7 0,-22.7 C3,-22.7 5.2,-20.8 5.2,-17.9 C5.2,-15.2 3.4,-13.2 0,-13.2 C-3.8,-13.2 -6,-11 -6,-7.8 C-6,-4.5 -3.4,-2.3 0,-2.3 C3.4,-2.3 6,-4.5 6,-7.8 C6,-11 3.8,-13.2 0,-13.2 Z"/>
<path transform="translate(63.75,-9.65)" d="M-7.2,-21.6 L6.8,-21.6 L-3.6,-1.4"/>
<path transform="translate(84.05,-9.65)" d="M0.6,-2.3 L0.6,-22.7 L-3.4,-18.6 M-4.0,-2.3 L3.4,-2.3"/>
<path transform="translate(110.35,-9.65)" d="M-4.4,-2.3 L-4.4,-14.8 M-4.4,-9.2 C-3.2,-12.8 -0.8,-14.8 1.6,-14.8 C3.2,-14.8 3.9,-13.8 3.9,-11.9"/>
<path transform="translate(132.85,-9.65)" d="M0.6,-2.3 L0.6,-22.7 L-3.4,-18.6 M-4.0,-2.3 L3.4,-2.3"/>
<path transform="translate(18.90,84.65)" d="M-4.9,-19.8 C-3.4,-22 -1.4,-22.9 0.6,-22.9 C3.5,-22.9 5.1,-20.8 5.1,-18.2 C5.1,-15 2.7,-13.2 -0.9,-13.2 C3.3,-13.2 5.7,-10.8 5.7,-7.6 C5.7,-4.4 3.3,-2.6 0,-2.6 C-2.4,-2.6 -4.4,-3.4 -5.6,-5"/>
<path transform="translate(40.70,84.65)" d="M-5.0,-18.8 C-3.8,-21.8 -1.4,-23.2 1.0,-23.2 C4.2,-23.2 6.3,-21 6.3,-17.8 C6.3,-13.6 1.6,-9.6 -5.4,-3.8 L6.0,-3.8"/>
<path transform="translate(40.70,131.80)" d="M-5.0,-18.8 C-3.8,-21.8 -1.4,-23.2 1.0,-23.2 C4.2,-23.2 6.3,-21 6.3,-17.8 C6.3,-13.6 1.6,-9.6 -5.4,-3.8 L6.0,-3.8"/>
<path transform="translate(62.50,131.80)" d="M0,-13.2 C-3.4,-13.2 -5.2,-15.2 -5.2,-17.9 C-5.2,-20.8 -3,-22.7 0,-22.7 C3,-22.7 5.2,-20.8 5.2,-17.9 C5.2,-15.2 3.4,-13.2 0,-13.2 C-3.8,-13.2 -6,-11 -6,-7.8 C-6,-4.5 -3.4,-2.3 0,-2.3 C3.4,-2.3 6,-4.5 6,-7.8 C6,-11 3.8,-13.2 0,-13.2 Z"/>
<path transform="translate(40.70,178.95)" d="M-5.0,-18.8 C-3.8,-21.8 -1.4,-23.2 1.0,-23.2 C4.2,-23.2 6.3,-21 6.3,-17.8 C6.3,-13.6 1.6,-9.6 -5.4,-3.8 L6.0,-3.8"/>
<path transform="translate(62.50,178.95)" d="M0,-13.2 C-3.4,-13.2 -5.2,-15.2 -5.2,-17.9 C-5.2,-20.8 -3,-22.7 0,-22.7 C3,-22.7 5.2,-20.8 5.2,-17.9 C5.2,-15.2 3.4,-13.2 0,-13.2 C-3.8,-13.2 -6,-11 -6,-7.8 C-6,-4.5 -3.4,-2.3 0,-2.3 C3.4,-2.3 6,-4.5 6,-7.8 C6,-11 3.8,-13.2 0,-13.2 Z"/>
<path transform="translate(62.50,226.10)" d="M0,-23.2 C4.2,-23.2 7.1,-18.5 7.1,-12.6 C7.1,-6.7 4.2,-2.0 0,-2.0 C-4.2,-2.0 -7.1,-6.7 -7.1,-12.6 C-7.1,-18.5 -4.2,-23.2 0,-23.2 Z"/>
<path transform="translate(84.30,226.10)" d="M5.8,-22.9 L-4.6,-22.9 L-5.4,-13.4 C-3.8,-15 -1.8,-15.6 0.2,-15.6 C4,-15.6 6.4,-12.8 6.4,-9 C6.4,-5 3.6,-2.5 -0.2,-2.5 C-2.8,-2.5 -4.8,-3.4 -6.2,-4.8"/>
<path transform="translate(84.30,273.25)" d="M4,-3.2 L4,-23 L-7.2,-8.6 L7.2,-8.6"/>
<path transform="translate(84.30,320.40)" d="M0.6,-2.3 L0.6,-22.7 L-3.4,-18.6 M-4.0,-2.3 L3.4,-2.3"/>
<rect x="2.00" y="94.50" width="49.60" height="2.2" fill="#111"/>
<rect x="29.80" y="188.80" width="43.60" height="2.2" fill="#111"/>
<rect x="51.60" y="283.10" width="43.60" height="2.2" fill="#111"/>
</g>
<g transform="translate(699.28,861.22)">
<text x="-20.1" y="38.0" class="k">6</text>
<text x="18.90" y="38.0" class="k">6</text>
<text x="40.70" y="38.0" class="k">2</text>
<text x="62.50" y="38.0" class="k">3</text>
<text x="84.30" y="38.0" class="k">2</text>
<rect x="0" y="-0.2" width="95.5" height="4.0" fill="#000"/>
<rect x="-2.0" y="3.4" width="4.0" height="44.4" fill="#000"/>
<path transform="translate(14.15,-9.65)" d="M0.6,-2.3 L0.6,-22.7 L-3.4,-18.6 M-4.0,-2.3 L3.4,-2.3"/>
<path transform="translate(40.45,-9.65)" d="M0,-23.2 C4.2,-23.2 7.1,-18.5 7.1,-12.6 C7.1,-6.7 4.2,-2.0 0,-2.0 C-4.2,-2.0 -7.1,-6.7 -7.1,-12.6 C-7.1,-18.5 -4.2,-23.2 0,-23.2 Z"/>
<path transform="translate(63.75,-9.65)" d="M-4.9,-19.8 C-3.4,-22 -1.4,-22.9 0.6,-22.9 C3.5,-22.9 5.1,-20.8 5.1,-18.2 C5.1,-15 2.7,-13.2 -0.9,-13.2 C3.3,-13.2 5.7,-10.8 5.7,-7.6 C5.7,-4.4 3.3,-2.6 0,-2.6 C-2.4,-2.6 -4.4,-3.4 -5.6,-5"/>
<path transform="translate(87.05,-9.65)" d="M0,-13.2 C-3.4,-13.2 -5.2,-15.2 -5.2,-17.9 C-5.2,-20.8 -3,-22.7 0,-22.7 C3,-22.7 5.2,-20.8 5.2,-17.9 C5.2,-15.2 3.4,-13.2 0,-13.2 C-3.8,-13.2 -6,-11 -6,-7.8 C-6,-4.5 -3.4,-2.3 0,-2.3 C3.4,-2.3 6,-4.5 6,-7.8 C6,-11 3.8,-13.2 0,-13.2 Z"/>
<path transform="translate(110.35,-9.65)" d="M-4.4,-2.3 L-4.4,-14.8 M-4.4,-9.2 C-3.2,-12.8 -0.8,-14.8 1.6,-14.8 C3.2,-14.8 3.9,-13.8 3.9,-11.9"/>
<path transform="translate(133.65,-9.65)" d="M4,-3.2 L4,-23 L-7.2,-8.6 L7.2,-8.6"/>
<path transform="translate(18.90,84.65)" d="M4.4,-24.0 C-1.8,-20.6 -6.2,-15 -6.2,-8.6 C-6.2,-4.6 -3.8,-2.2 0,-2.2 C3.7,-2.2 6.2,-4.8 6.2,-8.5 C6.2,-12.1 3.7,-14.6 0.1,-14.6 C-2.6,-14.6 -4.8,-13.2 -5.9,-11"/>
<path transform="translate(18.90,131.80)" d="M0,-23.2 C4.2,-23.2 7.1,-18.5 7.1,-12.6 C7.1,-6.7 4.2,-2.0 0,-2.0 C-4.2,-2.0 -7.1,-6.7 -7.1,-12.6 C-7.1,-18.5 -4.2,-23.2 0,-23.2 Z"/>
<path transform="translate(40.70,131.80)" d="M-5.0,-18.8 C-3.8,-21.8 -1.4,-23.2 1.0,-23.2 C4.2,-23.2 6.3,-21 6.3,-17.8 C6.3,-13.6 1.6,-9.6 -5.4,-3.8 L6.0,-3.8"/>
<path transform="translate(62.50,131.80)" d="M-4.9,-19.8 C-3.4,-22 -1.4,-22.9 0.6,-22.9 C3.5,-22.9 5.1,-20.8 5.1,-18.2 C5.1,-15 2.7,-13.2 -0.9,-13.2 C3.3,-13.2 5.7,-10.8 5.7,-7.6 C5.7,-4.4 3.3,-2.6 0,-2.6 C-2.4,-2.6 -4.4,-3.4 -5.6,-5"/>
<path transform="translate(40.70,178.95)" d="M0.6,-2.3 L0.6,-22.7 L-3.4,-18.6 M-4.0,-2.3 L3.4,-2.3"/>
<path transform="translate(62.50,178.95)" d="M0,-13.2 C-3.4,-13.2 -5.2,-15.2 -5.2,-17.9 C-5.2,-20.8 -3,-22.7 0,-22.7 C3,-22.7 5.2,-20.8 5.2,-17.9 C5.2,-15.2 3.4,-13.2 0,-13.2 C-3.8,-13.2 -6,-11 -6,-7.8 C-6,-4.5 -3.4,-2.3 0,-2.3 C3.4,-2.3 6,-4.5 6,-7.8 C6,-11 3.8,-13.2 0,-13.2 Z"/>
<path transform="translate(62.50,226.10)" d="M5.8,-22.9 L-4.6,-22.9 L-5.4,-13.4 C-3.8,-15 -1.8,-15.6 0.2,-15.6 C4,-15.6 6.4,-12.8 6.4,-9 C6.4,-5 3.6,-2.5 -0.2,-2.5 C-2.8,-2.5 -4.8,-3.4 -6.2,-4.8"/>
<path transform="translate(84.30,226.10)" d="M-5.0,-18.8 C-3.8,-21.8 -1.4,-23.2 1.0,-23.2 C4.2,-23.2 6.3,-21 6.3,-17.8 C6.3,-13.6 1.6,-9.6 -5.4,-3.8 L6.0,-3.8"/>
<path transform="translate(62.50,273.25)" d="M4,-3.2 L4,-23 L-7.2,-8.6 L7.2,-8.6"/>
<path transform="translate(84.30,273.25)" d="M0,-13.2 C-3.4,-13.2 -5.2,-15.2 -5.2,-17.9 C-5.2,-20.8 -3,-22.7 0,-22.7 C3,-22.7 5.2,-20.8 5.2,-17.9 C5.2,-15.2 3.4,-13.2 0,-13.2 C-3.8,-13.2 -6,-11 -6,-7.8 C-6,-4.5 -3.4,-2.3 0,-2.3 C3.4,-2.3 6,-4.5 6,-7.8 C6,-11 3.8,-13.2 0,-13.2 Z"/>
<path transform="translate(84.30,320.40)" d="M4,-3.2 L4,-23 L-7.2,-8.6 L7.2,-8.6"/>
<rect x="2.00" y="94.50" width="27.80" height="2.2" fill="#111"/>
<rect x="2.00" y="188.80" width="71.40" height="2.2" fill="#111"/>
<rect x="51.60" y="283.10" width="43.60" height="2.2" fill="#111"/>
</g>
<g transform="translate(1221.25,815.27)">
<text x="-20.1" y="38.0" class="k">5</text>
<text x="18.90" y="38.0" class="k">9</text>
<text x="40.70" y="38.0" class="k">2</text>
<text x="62.50" y="38.0" class="k">0</text>
<text x="84.30" y="38.0" class="k">7</text>
<rect x="0" y="-0.2" width="95.5" height="4.0" fill="#000"/>
<rect x="-2.0" y="3.4" width="4.0" height="44.4" fill="#000"/>
<path transform="translate(14.15,-9.65)" d="M0.6,-2.3 L0.6,-22.7 L-3.4,-18.6 M-4.0,-2.3 L3.4,-2.3"/>
<path transform="translate(40.45,-9.65)" d="M0,-13.2 C-3.4,-13.2 -5.2,-15.2 -5.2,-17.9 C-5.2,-20.8 -3,-22.7 0,-22.7 C3,-22.7 5.2,-20.8 5.2,-17.9 C5.2,-15.2 3.4,-13.2 0,-13.2 C-3.8,-13.2 -6,-11 -6,-7.8 C-6,-4.5 -3.4,-2.3 0,-2.3 C3.4,-2.3 6,-4.5 6,-7.8 C6,-11 3.8,-13.2 0,-13.2 Z"/>
<path transform="translate(63.75,-9.65)" d="M4,-3.2 L4,-23 L-7.2,-8.6 L7.2,-8.6"/>
<path transform="translate(84.05,-9.65)" d="M0.6,-2.3 L0.6,-22.7 L-3.4,-18.6 M-4.0,-2.3 L3.4,-2.3"/>
<path transform="translate(110.35,-9.65)" d="M-4.4,-2.3 L-4.4,-14.8 M-4.4,-9.2 C-3.2,-12.8 -0.8,-14.8 1.6,-14.8 C3.2,-14.8 3.9,-13.8 3.9,-11.9"/>
<path transform="translate(133.65,-9.65)" d="M-5.0,-18.8 C-3.8,-21.8 -1.4,-23.2 1.0,-23.2 C4.2,-23.2 6.3,-21 6.3,-17.8 C6.3,-13.6 1.6,-9.6 -5.4,-3.8 L6.0,-3.8"/>
<path transform="translate(18.90,84.65)" d="M5.8,-22.9 L-4.6,-22.9 L-5.4,-13.4 C-3.8,-15 -1.8,-15.6 0.2,-15.6 C4,-15.6 6.4,-12.8 6.4,-9 C6.4,-5 3.6,-2.5 -0.2,-2.5 C-2.8,-2.5 -4.8,-3.4 -6.2,-4.8"/>
<path transform="translate(18.90,131.80)" d="M4,-3.2 L4,-23 L-7.2,-8.6 L7.2,-8.6"/>
<path transform="translate(40.70,131.80)" d="M-5.0,-18.8 C-3.8,-21.8 -1.4,-23.2 1.0,-23.2 C4.2,-23.2 6.3,-21 6.3,-17.8 C6.3,-13.6 1.6,-9.6 -5.4,-3.8 L6.0,-3.8"/>
<path transform="translate(18.90,178.95)" d="M4,-3.2 L4,-23 L-7.2,-8.6 L7.2,-8.6"/>
<path transform="translate(40.70,178.95)" d="M0,-23.2 C4.2,-23.2 7.1,-18.5 7.1,-12.6 C7.1,-6.7 4.2,-2.0 0,-2.0 C-4.2,-2.0 -7.1,-6.7 -7.1,-12.6 C-7.1,-18.5 -4.2,-23.2 0,-23.2 Z"/>
<path transform="translate(40.70,226.10)" d="M-5.0,-18.8 C-3.8,-21.8 -1.4,-23.2 1.0,-23.2 C4.2,-23.2 6.3,-21 6.3,-17.8 C6.3,-13.6 1.6,-9.6 -5.4,-3.8 L6.0,-3.8"/>
<path transform="translate(62.50,226.10)" d="M0,-23.2 C4.2,-23.2 7.1,-18.5 7.1,-12.6 C7.1,-6.7 4.2,-2.0 0,-2.0 C-4.2,-2.0 -7.1,-6.7 -7.1,-12.6 C-7.1,-18.5 -4.2,-23.2 0,-23.2 Z"/>
<path transform="translate(40.70,273.25)" d="M-5.0,-18.8 C-3.8,-21.8 -1.4,-23.2 1.0,-23.2 C4.2,-23.2 6.3,-21 6.3,-17.8 C6.3,-13.6 1.6,-9.6 -5.4,-3.8 L6.0,-3.8"/>
<path transform="translate(62.50,273.25)" d="M0,-23.2 C4.2,-23.2 7.1,-18.5 7.1,-12.6 C7.1,-6.7 4.2,-2.0 0,-2.0 C-4.2,-2.0 -7.1,-6.7 -7.1,-12.6 C-7.1,-18.5 -4.2,-23.2 0,-23.2 Z"/>
<path transform="translate(62.50,320.40)" d="M0,-23.2 C4.2,-23.2 7.1,-18.5 7.1,-12.6 C7.1,-6.7 4.2,-2.0 0,-2.0 C-4.2,-2.0 -7.1,-6.7 -7.1,-12.6 C-7.1,-18.5 -4.2,-23.2 0,-23.2 Z"/>
<path transform="translate(84.30,320.40)" d="M-7.2,-21.6 L6.8,-21.6 L-3.6,-1.4"/>
<path transform="translate(84.30,367.55)" d="M5.8,-22.9 L-4.6,-22.9 L-5.4,-13.4 C-3.8,-15 -1.8,-15.6 0.2,-15.6 C4,-15.6 6.4,-12.8 6.4,-9 C6.4,-5 3.6,-2.5 -0.2,-2.5 C-2.8,-2.5 -4.8,-3.4 -6.2,-4.8"/>
<path transform="translate(84.30,414.70)" d="M-5.0,-18.8 C-3.8,-21.8 -1.4,-23.2 1.0,-23.2 C4.2,-23.2 6.3,-21 6.3,-17.8 C6.3,-13.6 1.6,-9.6 -5.4,-3.8 L6.0,-3.8"/>
<rect x="2.00" y="94.50" width="27.80" height="2.2" fill="#111"/>
<rect x="2.00" y="188.80" width="49.60" height="2.2" fill="#111"/>
<rect x="29.80" y="283.10" width="43.60" height="2.2" fill="#111"/>
<rect x="51.60" y="377.40" width="43.60" height="2.2" fill="#111"/>
</g>
<rect x="87.5" y="1287.8" width="1342.8" height="72.0" fill="none" stroke="#c6cbd3" stroke-width="1.8"/>
<rect x="423.30" y="1287.8" width="1.8" height="72.0" fill="#c6cbd3"/>
<rect x="759.00" y="1287.8" width="1.8" height="72.0" fill="#c6cbd3"/>
<rect x="1095.50" y="1287.8" width="1.8" height="72.0" fill="#c6cbd3"/>
<text x="255.35" y="1335.06" class="t">Total: 9</text>
<text x="591.05" y="1335.06" class="t">Goal: _____</text>
<text x="926.75" y="1335.06" class="t">Complete: _____</text>
<text x="1262.45" y="1335.06" class="t">Correct: _____</text>
<text x="97.7" y="1420.7" class="c">&#169; 2008-2015 DadsWorksheets.com</text>
<text x="98.5" y="1450.5" class="c">Terms</text>
</g>
</svg>
</body></html>
